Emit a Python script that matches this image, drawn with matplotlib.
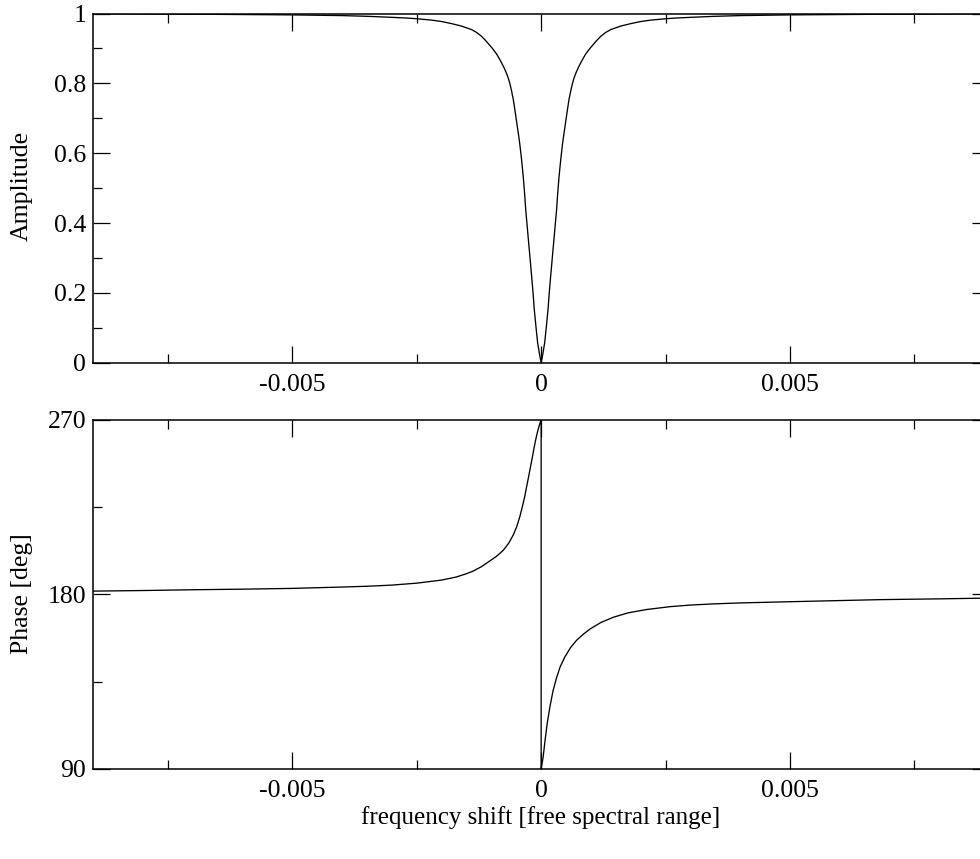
import matplotlib
matplotlib.use("Agg")
import matplotlib.pyplot as plt
from matplotlib.ticker import FixedLocator, MultipleLocator

# ---- data ----
amp_freq_left = [-0.0090, -0.0080, -0.0070, -0.0060, -0.0050, -0.0045, -0.0040, -0.0035,
                 -0.0030, -0.0027, -0.0025, -0.0022, -0.0020, -0.0018, -0.0016, -0.0014,
                 -0.0013, -0.0012, -0.0011, -0.00098, -0.00090, -0.00085, -0.00080,
                 -0.00075, -0.00070, -0.00066, -0.00063, -0.00060, -0.00056, -0.00053,
                 -0.00050, -0.00048, -0.00045, -0.00043, -0.00040, -0.00038, -0.00036,
                 -0.00033, -0.00031, -0.00028, -0.00025, -0.00022, -0.00019, -0.00016,
                 -0.00014, -0.00010, -0.00007, -0.00003, 0.0]
amp_left = [0.999, 0.9985, 0.998, 0.997, 0.996, 0.995, 0.994, 0.992,
            0.989, 0.987, 0.985, 0.981, 0.977, 0.971, 0.964, 0.954,
            0.946, 0.935, 0.920, 0.900, 0.885, 0.873, 0.860,
            0.846, 0.830, 0.815, 0.800, 0.782, 0.754, 0.726,
            0.697, 0.677, 0.648, 0.627, 0.590, 0.562, 0.533,
            0.480, 0.4375, 0.390, 0.342, 0.294, 0.246, 0.195,
            0.155, 0.097, 0.056, 0.022, 0.0]
amp_freq_right = [0.00003, 0.00007, 0.00010, 0.00014, 0.00016, 0.00019, 0.00022, 0.00025,
                  0.00028, 0.00031, 0.00033, 0.00036, 0.00038, 0.00040, 0.00043, 0.00045,
                  0.00048, 0.00050, 0.00053, 0.00056, 0.00060, 0.00063, 0.00066, 0.00070,
                  0.00075, 0.00080, 0.00085, 0.00090, 0.00098, 0.0011, 0.0012, 0.0013,
                  0.0014, 0.0016, 0.0018, 0.0020, 0.0022, 0.0025, 0.0027, 0.0030,
                  0.0035, 0.0040, 0.0045, 0.0050, 0.0060, 0.0070, 0.0080, 0.0090]
amp_right = [0.022, 0.056, 0.097, 0.155, 0.195, 0.246, 0.294, 0.342,
             0.390, 0.4375, 0.480, 0.533, 0.562, 0.590, 0.627, 0.648,
             0.677, 0.697, 0.726, 0.754, 0.782, 0.800, 0.815, 0.830,
             0.846, 0.860, 0.873, 0.885, 0.900, 0.920, 0.935, 0.946,
             0.954, 0.964, 0.971, 0.977, 0.981, 0.985, 0.987, 0.989,
             0.992, 0.994, 0.995, 0.996, 0.997, 0.998, 0.9985, 0.999]

phase_freq = [-0.0090, -0.0080, -0.0070, -0.0060, -0.0050, -0.0040, -0.0035, -0.0030,
              -0.0025, -0.0020, -0.0017, -0.0015, -0.00137, -0.00120, -0.00103, -0.00090,
              -0.00076, -0.00065, -0.00056, -0.00049, -0.00043, -0.00038, -0.00033,
              -0.00029, -0.00025, -0.000207, -0.000175, -0.000147, -0.000110, -0.000072,
              -0.000040, -0.000012, 0.0,
              0.0, 0.00002, 0.00004, 0.00008, 0.000121, 0.00018, 0.000241, 0.00031,
              0.00038, 0.000476, 0.00059, 0.000711, 0.00085, 0.00098, 0.00120, 0.00145,
              0.00175, 0.00212, 0.00260, 0.00300, 0.00346, 0.0040, 0.0048, 0.0058,
              0.00682, 0.0080, 0.0090]
phase_deg = [181.7, 182.0, 182.4, 182.7, 183.1, 183.8, 184.2, 184.8,
             185.8, 187.4, 189.0, 190.7, 192.0, 194.3, 197.3, 199.6,
             202.8, 206.5, 210.7, 215.0, 220.0, 225.0, 230.5,
             235.8, 241.0, 246.8, 251.0, 255.0, 259.8, 264.0,
             267.0, 269.2, 270.0,
             90.0, 93.0, 96.0, 105.0, 113.3, 122.5, 130.5, 137.0,
             142.5, 147.7, 152.5, 156.3, 159.5, 162.1, 165.5, 168.2,
             170.5, 172.2, 173.7, 174.5, 175.1, 175.6, 176.1, 176.7,
             177.3, 177.7, 178.1]

x_ticks = [-0.005, 0.0, 0.005]
x_ticklabels = ["-0.005", "0", "0.005"]
amp_ticks = [0, 0.2, 0.4, 0.6, 0.8, 1.0]
amp_ticklabels = ["0", "0.2", "0.4", "0.6", "0.8", "1"]
phase_ticks = [90, 180, 270]
phase_ticklabels = ["90", "180", "270"]

# ---- figure ----
plt.rcParams['font.family'] = ['Liberation Serif', 'DejaVu Serif']
W, H = 980, 859
fig = plt.figure(figsize=(W / 100, H / 100), dpi=100)

left_px, right_px = 93.3, 989.0
ax1 = fig.add_axes([left_px / W, 1 - 362.7 / H, (right_px - left_px) / W, (362.7 - 13.5) / H])
ax2 = fig.add_axes([left_px / W, 1 - 768.8 / H, (right_px - left_px) / W, (768.8 - 420.0) / H])

amp_freq = amp_freq_left + amp_freq_right
amp_vals = amp_left + amp_right
ax1.plot(amp_freq, amp_vals, color='black', lw=0.95, solid_joinstyle='round')
ax2.plot(phase_freq, phase_deg, color='black', lw=0.95, solid_joinstyle='round')

for ax in (ax1, ax2):
    ax.set_xlim(-0.009, 0.009)
    ax.xaxis.set_major_locator(FixedLocator(x_ticks))
    ax.set_xticklabels(x_ticklabels)
    ax.xaxis.set_minor_locator(MultipleLocator(0.0025))
    ax.tick_params(which='both', direction='in', top=True, right=True,
                   labelsize=18.5, width=0.9, color='black')
    ax.tick_params(which='major', length=12.5)
    ax.tick_params(which='minor', length=6.5)
    ax.tick_params(axis='x', pad=8)
    ax.tick_params(axis='y', pad=5)
    for s in ax.spines.values():
        s.set_linewidth(1.1)

ax1.set_ylim(0, 1)
ax1.yaxis.set_major_locator(FixedLocator(amp_ticks))
ax1.set_yticklabels(amp_ticklabels)
ax1.yaxis.set_minor_locator(MultipleLocator(0.1))

ax2.set_ylim(90, 270)
ax2.yaxis.set_major_locator(FixedLocator(phase_ticks))
ax2.set_yticklabels(phase_ticklabels)
ax2.yaxis.set_minor_locator(MultipleLocator(45))

fig.text(22 / W, 1 - 186 / H, "Amplitude", rotation=90, ha='center', va='center', fontsize=18.5)
fig.text(22 / W, 1 - 594 / H, "Phase [deg]", rotation=90, ha='center', va='center', fontsize=18.5)
fig.text(541 / W, 1 - 818 / H, "frequency shift [free spectral range]", ha='center', va='center', fontsize=18)

fig.savefig("out.png", dpi=100)
